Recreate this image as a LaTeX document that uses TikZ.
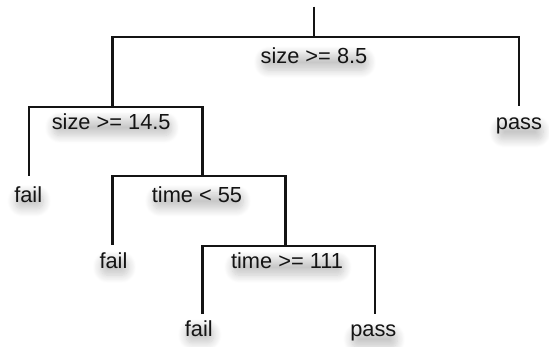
\documentclass[tikz,border=0pt]{standalone}
\usepackage{fontspec}
\setmainfont{Liberation Sans}
\usetikzlibrary{shadows.blur}
\begin{document}
\begin{tikzpicture}[x=1pt,y=-1pt]
\tikzset{
  branch/.style={line width=2.1pt, draw=black!92},
  lbl/.style={font=\fontsize{21.8}{26}\selectfont, anchor=base, inner sep=0pt, rounded corners=7pt, text=black!92,
    blur shadow={shadow xshift=1pt, shadow yshift=-6pt, shadow blur radius=8pt, shadow blur steps=10, shadow opacity=22}},
}
\useasboundingbox (0,0) rectangle (549,347);
% split points
\coordinate (top) at (314.3,6.7);
\coordinate (s1) at (314.3,36.7);
\coordinate (s2) at (112.5,106.6);
\coordinate (s3) at (202.5,176.2);
\coordinate (s4) at (285.5,245.6);
% leaf line ends
\coordinate (e1) at (29.3,175.6);
\coordinate (e2) at (519.3,106.3);
\coordinate (e3) at (112.5,244.8);
\coordinate (e4) at (202.5,314.2);
\coordinate (e5) at (374.8,314.2);
% branches
\draw[branch] (top) -- (s1);
\draw[branch] (s2) |- (s1) -| (e2);
\draw[branch] (e1) |- (s2) -| (s3);
\draw[branch] (e3) |- (s3) -| (s4);
\draw[branch] (e4) |- (s4) -| (e5);
% split labels
\node[lbl] (t1) at (314.0,64.0) {size >= 8.5};
\node[lbl] (t2) at (111.2,129.3) {size >= 14.5};
\node[lbl] (t3) at (197.0,202.7) {time < 55};
\node[lbl] (t4) at (287.0,269.0) {time >= 111};
% leaf labels
\node[lbl] (f1) at (28.2,202.7) {fail};
\node[lbl] (p1) at (519.0,129.3) {pass};
\node[lbl] (f2) at (113.5,269.0) {fail};
\node[lbl] (f3) at (198.8,336.7) {fail};
\node[lbl] (p2) at (373.3,336.7) {pass};
\end{tikzpicture}
\end{document}
